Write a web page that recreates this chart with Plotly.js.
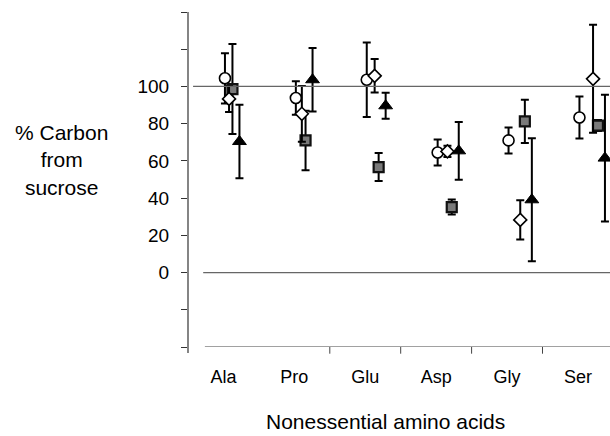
<!DOCTYPE html>
<html>
<head>
<meta charset="utf-8">
<script src="https://cdn.plot.ly/plotly-3.0.1.min.js"></script>
<style>html,body{margin:0;padding:0;background:#fff;}#chart{width:610px;height:436px;}</style>
</head>
<body>
<div id="chart"></div>
<script>
// ---- data ----
const categories = ['Ala', 'Pro', 'Glu', 'Asp', 'Gly', 'Ser'];
const circleVals   = [104.4, 93.8, 103.6, 64.5, 71.0, 83.3];
const circleErr    = [13.5, 9.0, 20.0, 7.0, 7.0, 11.3];
const diamondVals  = [93.3, 85.3, 105.7, 65.1, 28.3, 104.1];
const diamondErr   = [7.0, 15.0, 9.0, 3.0, 10.5, 29.0];
const squareVals   = [98.6, 71.0, 56.7, 35.2, 81.2, 79.0];
const squareErr    = [24.2, 16.0, 7.5, 4.0, 11.6, 3.0];
const triangleVals = [70.4, 103.6, 89.6, 65.4, 39.1, 61.5];
const triangleErr  = [19.7, 17.0, 7.0, 15.5, 33.0, 34.0];
const yTickVals  = [-40, -20, 0, 20, 40, 60, 80, 100, 120, 140];
const yTickText  = ['', '', '0', '20', '40', '60', '80', '100', '', ''];

// ---- layout helpers (horizontal dodge of each series within a category) ----
const PX_PER_CAT = 70.9;
function dodge(basePx, stepPx) {
  return categories.map((c, i) => i + (basePx + stepPx * i) / PX_PER_CAT);
}
const idx = categories.map((c, i) => i);

function series(x, y, err, marker) {
  return {
    type: 'scatter', mode: 'markers', x: x, y: y,
    error_y: {type: 'data', array: err, visible: true, color: '#000', thickness: 2, width: 4},
    marker: marker, hoverinfo: 'skip', showlegend: false
  };
}

const traces = [
  series(dodge(1.5, 0), circleVals, circleErr,
    {symbol: 'circle', size: 11, color: '#fff', line: {color: '#000', width: 1.6}}),
  series(dodge(9, 2.2), squareVals, squareErr,
    {symbol: 'square', size: 10, color: '#7a7a7a', line: {color: '#111', width: 2.2}}),
  series(dodge(5.6, 1.9), diamondVals, diamondErr,
    {symbol: 'diamond', size: 10, color: '#fff', line: {color: '#000', width: 1.6}}),
  series(dodge(16, 2.2), triangleVals, triangleErr,
    {symbol: 'triangle-up', size: 12, color: '#000', line: {color: '#000', width: 1}})
];

const font = 'Liberation Sans, Arial, Helvetica, sans-serif';
const shapes = [
  {type: 'line', xref: 'paper', yref: 'y', x0: 0.012, x1: 1, y0: 100, y1: 100, line: {color: '#666', width: 1.2}},
  {type: 'line', xref: 'paper', yref: 'y', x0: 0.036, x1: 1, y0: 0, y1: 0, line: {color: '#666', width: 1.2}},
  {type: 'line', xref: 'paper', yref: 'y', x0: 0.04, x1: 1, y0: -40, y1: -40, line: {color: '#444', width: 1.2}},
  {type: 'line', xref: 'paper', yref: 'paper', x0: 0, x1: 0, y0: -0.018, y1: 1, line: {color: '#333', width: 1.2}}
];
[1.5, 2.5, 3.5, 4.5].forEach(b => shapes.push(
  {type: 'line', xref: 'x', yref: 'paper', x0: b, x1: b, y0: 0, y1: -0.02, line: {color: '#444', width: 1}}
));

const layout = {
  width: 610, height: 436,
  margin: {l: 188, r: 0, t: 12, b: 89},
  paper_bgcolor: '#fff', plot_bgcolor: '#fff',
  font: {family: font, color: '#000', size: 18},
  xaxis: {
    type: 'linear', range: [-0.5, 5.452],
    tickvals: idx, ticktext: categories,
    ticks: '', showline: false, showgrid: false, zeroline: false,
    tickfont: {size: 18, family: font, color: '#000'},
    ticklabelstandoff: 17
  },
  yaxis: {
    range: [-40, 140], tickvals: yTickVals, ticktext: yTickText,
    ticks: 'outside', ticklen: 6, tickwidth: 1, tickcolor: '#333',
    showline: false, showgrid: false, zeroline: false,
    tickfont: {size: 19, family: font, color: '#000'},
    ticklabelstandoff: 8
  },
  shapes: shapes,
  annotations: [
    {xref: 'paper', yref: 'paper', x: -0.2986, y: 0.559, xanchor: 'center', yanchor: 'middle',
     text: '% Carbon<br>from<br>sucrose', showarrow: false, align: 'center',
     font: {size: 21, family: font, color: '#000'}},
    {xref: 'paper', yref: 'paper', x: 0.469, y: -0.2237, xanchor: 'center', yanchor: 'middle',
     text: 'Nonessential amino acids', showarrow: false,
     font: {size: 21, family: font, color: '#000'}}
  ]
};

Plotly.newPlot('chart', traces, layout, {staticPlot: true, displayModeBar: false});
</script>
</body>
</html>
